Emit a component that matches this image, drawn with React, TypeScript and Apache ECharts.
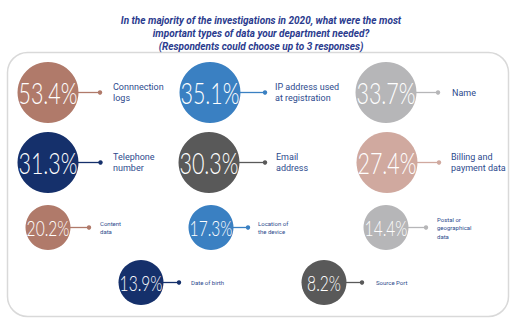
import React, { useEffect, useRef } from 'react';
import * as echarts from 'echarts';

// ---- data ----
const titleLines = [
  'In the majority of the investigations in 2020, what were the most',
  'important types of data your department needed?',
  '(Respondents could choose up to 3 responses)',
];
const categories = [
  'Connnection\nlogs',
  'IP address used\nat registration',
  'Name',
  'Telephone\nnumber',
  'Email\naddress',
  'Billing and\npayment data',
  'Content\ndata',
  'Location of\nthe device',
  'Postal or\ngeographical\ndata',
  'Date of birth',
  'Source Port',
];
const values = [53.4, 35.1, 33.7, 31.3, 30.3, 27.4, 20.2, 17.3, 14.4, 13.9, 8.2];

// ---- styles / layout ----
const colors = [
  '#b07a6a', '#3a80c2', '#b6b6b8',
  '#15306b', '#595959', '#d0a99f',
  '#b07a6a', '#3a80c2', '#b6b6b8',
  '#15306b', '#595959',
];
const centerX = [48, 210, 386, 48, 209, 387, 48, 211, 386, 141, 324];
const centerY = [92.5, 92.5, 92.5, 162.5, 162.5, 162.5, 227.5, 227.5, 227.5, 282.5, 282.5];
const radius = [30.5, 30.5, 30.5, 30.5, 30.5, 30.5, 22.5, 22.5, 22.5, 22.5, 22.5];
const dotX = [100, 265, 438, 100.5, 265, 439, 89, 248, 426, 179, 362];
const labelX = [113, 275, 452, 113, 276, 451, 100, 258, 437, 191, 376];
const pctFont = [29, 29, 29, 29, 29, 29, 21, 21, 21, 21, 21];
const labelFont = [9, 9, 9, 9, 9, 9, 6, 6, 6, 6, 6];
const labelLH = [11, 11, 11, 11, 11, 11, 8.5, 8.5, 8.5, 8.5, 8.5];

const TITLE_COLOR = '#2b3b8e';
const LABEL_COLOR = '#2d4a8d';
const PCT_FONT = 'Lato, Roboto, sans-serif';

export default function App() {
  const ref = useRef<HTMLDivElement>(null);
  useEffect(() => {
    const chart = echarts.init(ref.current as HTMLDivElement, null, { renderer: 'svg' });
    chart.setOption({
      animation: false,
      backgroundColor: '#ffffff',
      title: {
        text: titleLines.join('\n'),
        left: 256,
        top: 9,
        textAlign: 'center',
        textStyle: {
          fontFamily: 'Roboto',
          fontStyle: 'italic',
          fontWeight: 'bold',
          fontSize: 10,
          lineHeight: 13,
          color: TITLE_COLOR,
        },
      },
      grid: { left: 0, right: 0, top: 0, bottom: 0 },
      xAxis: { type: 'value', min: 0, max: 527, show: false },
      yAxis: { type: 'value', min: 0, max: 330, inverse: true, show: false },
      graphic: [
        {
          type: 'rect',
          z: -10,
          shape: { x: 7.5, y: 52.5, width: 501, height: 264, r: 20 },
          style: { fill: 'none', stroke: '#d9d9d9', lineWidth: 1.5 },
        },
      ],
      series: [
        {
          type: 'custom',
          coordinateSystem: 'cartesian2d',
          clip: false,
          data: values.map((v, i) => [centerX[i], centerY[i], v]),
          renderItem: (params: any, api: any) => {
            const i = params.dataIndex;
            const p = api.coord([api.value(0), api.value(1)]);
            const cx = p[0];
            const cy = p[1];
            const r = radius[i];
            const c = colors[i];
            const dx = api.coord([dotX[i], 0])[0];
            const lx = api.coord([labelX[i], 0])[0];
            return {
              type: 'group',
              children: [
                {
                  type: 'line',
                  shape: { x1: cx + r - 1, y1: cy, x2: dx, y2: cy },
                  style: { stroke: c, lineWidth: 1.3 },
                },
                {
                  type: 'circle',
                  shape: { cx: dx, cy: cy, r: 2.2 },
                  style: { fill: c },
                },
                {
                  type: 'circle',
                  shape: { cx, cy, r },
                  style: { fill: c },
                },
                {
                  type: 'text',
                  x: cx,
                  y: cy + 0.5,
                  scaleX: 0.74,
                  style: {
                    text: api.value(2).toFixed(1) + '%',
                    x: 0,
                    y: 0,
                    align: 'center',
                    verticalAlign: 'middle',
                    fill: '#ffffff',
                    fontFamily: PCT_FONT,
                    fontWeight: 300,
                    fontSize: pctFont[i],
                  },
                },
                {
                  type: 'text',
                  x: lx,
                  y: cy,
                  style: {
                    text: categories[i],
                    x: 0,
                    y: 0,
                    align: 'left',
                    verticalAlign: 'middle',
                    fill: LABEL_COLOR,
                    fontFamily: 'Roboto',
                    fontWeight: 'normal',
                    fontSize: labelFont[i],
                    lineHeight: labelLH[i],
                  },
                },
              ],
            };
          },
        },
      ],
    });
    return () => chart.dispose();
  }, []);
  return (
    <div
      ref={ref}
      style={{ position: 'fixed', left: 0, top: 0, width: 527, height: 330, background: '#fff' }}
    />
  );
}
